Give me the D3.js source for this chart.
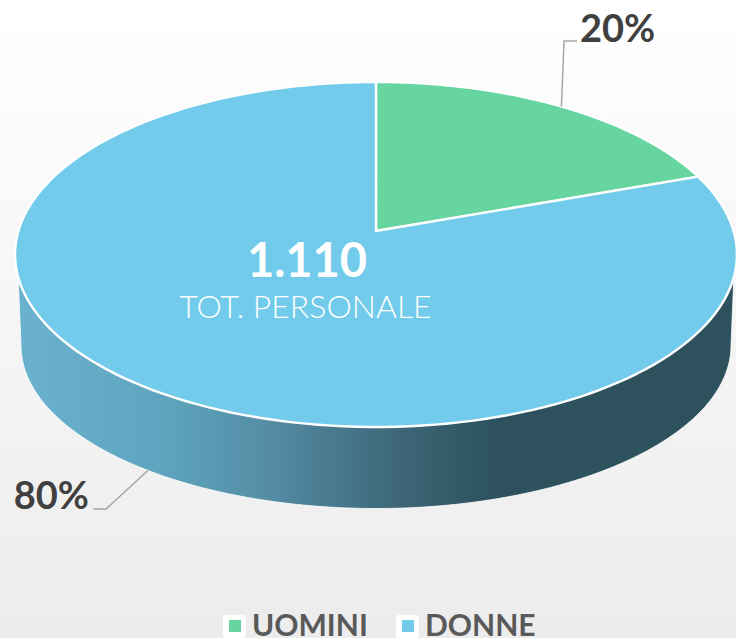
<!DOCTYPE html>
<html>
<head>
<meta charset="utf-8">
<script src="https://cdn.jsdelivr.net/npm/d3@7"></script>
<style>
html, body { margin: 0; padding: 0; overflow: hidden; }
svg { display: block; font-family: Lato, sans-serif; }
</style>
</head>
<body>
<svg id="chart" width="736" height="638"></svg>
<script>
// values
var categories = ["UOMINI", "DONNE"];
var values = [217, 893];
var colors = ["#66d5a0", "#72cbea"];
var totalLabel = "1.110";
var totalCaption = "TOT. PERSONALE";

var svg = d3.select("#chart");
var defs = svg.append("defs");

var bg = defs.append("linearGradient").attr("id", "bg")
    .attr("x1", 0).attr("y1", 0).attr("x2", 0).attr("y2", 1);
bg.append("stop").attr("offset", 0).attr("stop-color", "#ffffff");
bg.append("stop").attr("offset", 1).attr("stop-color", "#ececec");

var side = defs.append("linearGradient").attr("id", "side")
    .attr("gradientUnits", "userSpaceOnUse")
    .attr("x1", 15).attr("y1", 0).attr("x2", 736).attr("y2", 0);
[[0, "#6ab2ce"], [0.2, "#5fa5bf"], [0.34, "#558fa7"], [0.49, "#436f82"],
 [0.6, "#345b69"], [0.67, "#2d525e"], [1, "#2d525e"]].forEach(function(s) {
    side.append("stop").attr("offset", s[0]).attr("stop-color", s[1]);
});

svg.append("rect").attr("width", 736).attr("height", 638).attr("fill", "url(#bg)");

// the disc is drawn in perspective, front edge nearer to the viewer
var persp = 0.1362;
function projector(cx, cy, a, b) {
    return function(angle, r) {
        var u = r * Math.sin(angle), v = r * Math.cos(angle), w = 1 + persp * v;
        return [cx + a * u / w, cy - b * v / w];
    };
}
var topRim = projector(376, 231, 357.6, 169.3);
var lowRim = projector(376, 323.3, 351.7, 160);

function samples(a0, a1) {
    return d3.range(0, 161).map(function(i) { return a0 + (a1 - a0) * i / 160; });
}

var line = d3.line();
var slices = d3.pie().sort(null)(values);
var rad = Math.PI / 180;

// side wall
var wall = samples(105.2 * rad, 254.8 * rad).map(function(a) { return topRim(a, 1); })
    .concat(samples(262.2 * rad, 97.8 * rad).map(function(a) { return lowRim(a, 1); }));
svg.append("path").attr("d", line(wall) + "Z")
    .attr("fill", "url(#side)").attr("stroke", "#fff").attr("stroke-width", 1)
    .attr("stroke-opacity", 0.8).attr("stroke-linejoin", "round");

// top face
svg.selectAll(".slice").data(slices).enter().append("path")
    .attr("class", "slice")
    .attr("d", function(d) {
        var pts = samples(d.startAngle, d.endAngle).map(function(a) { return topRim(a, 1); });
        pts.unshift(topRim(0, 0));
        return line(pts) + "Z";
    })
    .attr("fill", function(d, i) { return colors[i]; })
    .attr("stroke", "#fff").attr("stroke-width", 2.4).attr("stroke-linejoin", "round");

// leader lines and percent labels
function mid(d) { return (d.startAngle + d.endAngle) / 2; }
var total = d3.sum(values);
var leaders = [
    [topRim(mid(slices[0]), 1), [564, 41], [577, 41]],
    [lowRim(mid(slices[1]), 1), [106, 509], [93, 509]]
];
svg.selectAll(".leader").data(leaders).enter().append("path")
    .attr("class", "leader").attr("d", line)
    .attr("fill", "none").attr("stroke", "#a6a6a6").attr("stroke-width", 1.5);

var pctPos = [[580, 42, "start"], [89, 509, "end"]];
svg.selectAll(".pct").data(slices).enter().append("text")
    .attr("class", "pct")
    .attr("x", function(d, i) { return pctPos[i][0]; })
    .attr("y", function(d, i) { return pctPos[i][1]; })
    .attr("text-anchor", function(d, i) { return pctPos[i][2]; })
    .attr("font-size", 38).attr("font-weight", 700).attr("fill", "#404040")
    .text(function(d) { return Math.round(d.value / total * 100) + "%"; });

// center text
svg.append("text").attr("x", 307).attr("y", 277).attr("text-anchor", "middle")
    .attr("font-size", 47).attr("font-weight", 700).attr("fill", "#fff")
    .text(totalLabel);
svg.append("text").attr("x", 305.5).attr("y", 318).attr("text-anchor", "middle")
    .attr("font-size", 32).attr("font-weight", 300).attr("fill", "#fff")
    .text(totalCaption);

// legend
var legendX = [223, 396];
var legend = svg.selectAll(".legend").data(categories).enter().append("g")
    .attr("class", "legend")
    .attr("transform", function(d, i) { return "translate(" + legendX[i] + ",615)"; });
legend.append("rect").attr("width", 23).attr("height", 23).attr("rx", 3).attr("fill", "#fff");
legend.append("rect").attr("x", 6).attr("y", 5).attr("width", 12).attr("height", 12)
    .attr("fill", function(d, i) { return colors[i]; });
legend.append("text").attr("x", 29).attr("y", 21)
    .attr("font-size", 30).attr("font-weight", 700).attr("fill", "#595959")
    .text(function(d) { return d; });
</script>
</body>
</html>
